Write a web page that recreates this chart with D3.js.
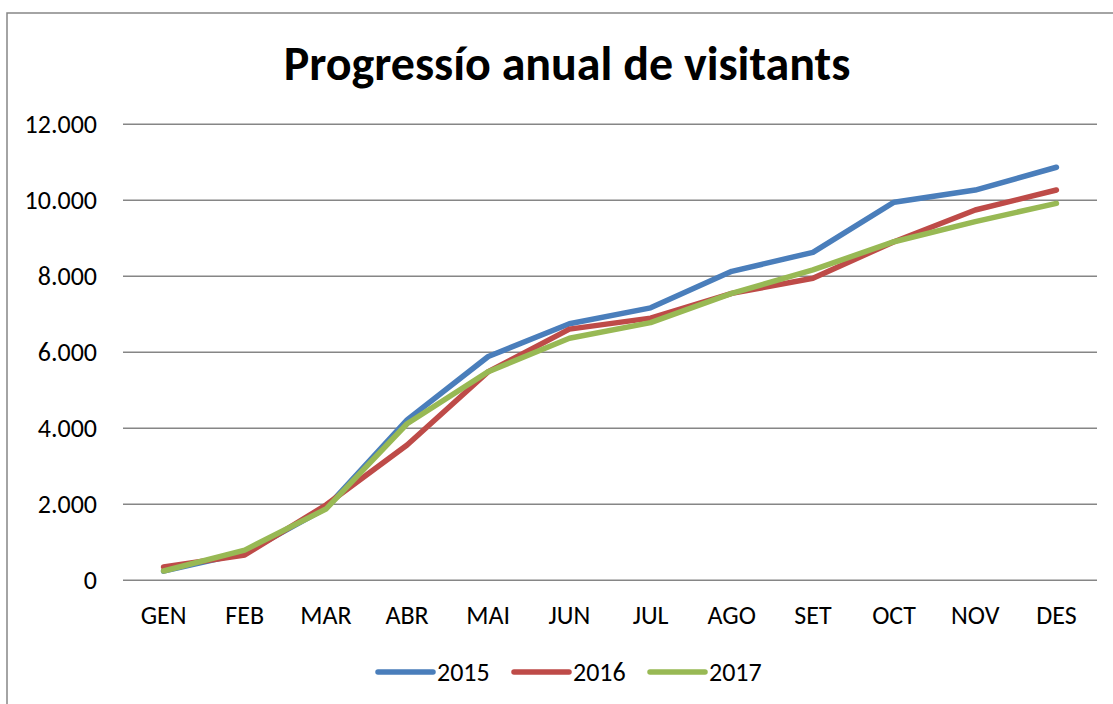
<!DOCTYPE html>
<html>
<head>
<meta charset="utf-8">
<script src="https://cdn.jsdelivr.net/npm/d3@7"></script>
<style>
  html, body { margin: 0; padding: 0; background: #fff; }
  svg { display: block; }
</style>
</head>
<body>
<div id="chart"></div>
<script>
// Progressió anual de visitants — cumulative visitors per month, 3 years

const months = ["GEN", "FEB", "MAR", "ABR", "MAI", "JUN", "JUL", "AGO", "SET", "OCT", "NOV", "DES"];
const years  = ["2015", "2016", "2017"];

const v2015 = [240, 720, 1900, 4220, 5890, 6750, 7170, 8130, 8630, 9950, 10270, 10870];
const v2016 = [350, 665, 1980, 3560, 5490, 6610, 6900, 7550, 7950, 8910, 9745, 10270];
const v2017 = [245, 795, 1875, 4120, 5490, 6370, 6780, 7550, 8170, 8910, 9440, 9920];

const yTicks = [0, 2000, 4000, 6000, 8000, 10000, 12000];

const COLORS = { "2015": "#4a7ebb", "2016": "#be4b48", "2017": "#98b954" };
const series = [
  { year: "2015", values: v2015 },
  { year: "2016", values: v2016 },
  { year: "2017", values: v2017 }
];

const width = 1113, height = 704;
const margin = { top: 124.3, right: 16, bottom: 123.7, left: 123 };
const plot_width  = width  - margin.left - margin.right;
const plot_height = height - margin.top  - margin.bottom;

const FONT = "Carlito, Lato, 'Open Sans', sans-serif";

const canvas = d3.select("#chart")
  .append("svg")
  .attr("width", width)
  .attr("height", height);

// outer chart border (only left and top are visible in frame)
canvas.append("rect")
  .attr("x", 7).attr("y", 13)
  .attr("width", width + 20).attr("height", height + 20)
  .attr("fill", "none")
  .attr("stroke", "#868686")
  .attr("stroke-width", 1.5);

// TITLE
canvas.append("text")
  .attr("x", 567)
  .attr("y", 80)
  .attr("text-anchor", "middle")
  .style("font-family", FONT)
  .style("font-size", "48px")
  .style("font-weight", "bold")
  .style("fill", "#000")
  .text("Progressío anual de visitants");

const x = d3.scaleBand()
  .domain(months)
  .range([margin.left, margin.left + plot_width]);

const y = d3.scaleLinear()
  .domain([0, 12000])
  .range([margin.top + plot_height, margin.top]);

const fmt = d => d3.format(",")(d).replace(/,/g, ".");

// gridlines
canvas.append("g")
  .selectAll("line")
  .data(yTicks)
  .join("line")
  .attr("x1", margin.left)
  .attr("x2", margin.left + plot_width)
  .attr("y1", d => y(d))
  .attr("y2", d => y(d))
  .attr("stroke", "#868686")
  .attr("stroke-width", 1.6);

// Y labels
canvas.append("g")
  .selectAll("text")
  .data(yTicks)
  .join("text")
  .attr("x", 97)
  .attr("y", d => y(d))
  .attr("dy", "0.35em")
  .attr("text-anchor", "end")
  .style("font-family", FONT)
  .style("font-size", "26px")
  .style("fill", "#000")
  .text(fmt);

// X labels
canvas.append("g")
  .selectAll("text")
  .data(months)
  .join("text")
  .attr("x", d => x(d) + x.bandwidth() / 2)
  .attr("y", 615)
  .attr("dy", "0.35em")
  .attr("text-anchor", "middle")
  .style("font-family", FONT)
  .style("font-size", "26px")
  .style("fill", "#000")
  .text(d => d);

// LINES
const line = d3.line()
  .x((d, i) => x(months[i]) + x.bandwidth() / 2)
  .y(d => y(d));

canvas.append("g")
  .selectAll("path")
  .data(series)
  .join("path")
  .attr("d", d => line(d.values))
  .attr("fill", "none")
  .attr("stroke", d => COLORS[d.year])
  .attr("stroke-width", 5.5)
  .attr("stroke-linejoin", "round")
  .attr("stroke-linecap", "round");

// LEGEND
const legendX = [378, 514, 650];
const legendG = canvas.append("g");
years.forEach((yr, i) => {
  const row = legendG.append("g").attr("transform", `translate(${legendX[i]}, 672)`);
  row.append("line")
    .attr("x1", 0).attr("x2", 55)
    .attr("y1", 0).attr("y2", 0)
    .attr("stroke", COLORS[yr])
    .attr("stroke-width", 5.5)
    .attr("stroke-linecap", "round");
  row.append("text")
    .attr("x", 59).attr("y", 0)
    .attr("dy", "0.35em")
    .style("font-family", FONT)
    .style("font-size", "26px")
    .style("fill", "#000")
    .text(yr);
});
</script>
</body>
</html>
